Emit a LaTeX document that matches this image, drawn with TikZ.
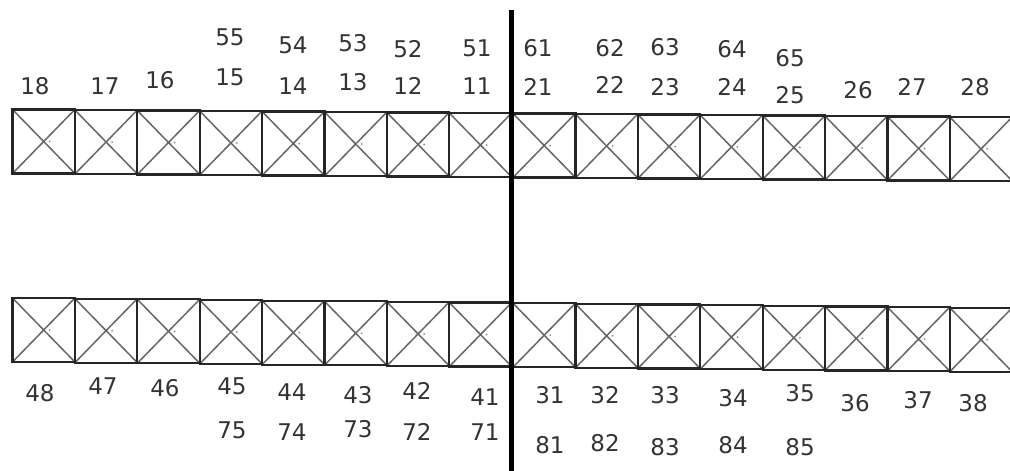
\documentclass[tikz,border=0pt]{standalone}
\usepackage{fontspec}
\setmainfont{DejaVu Sans}

\tikzset{
  tooth/.style={draw=black!85, line width=2.2pt, minimum width=62.4pt, minimum height=64pt, inner sep=0pt,
    path picture={
      \draw[black!60, line width=1.5pt] (path picture bounding box.north west) -- (path picture bounding box.south east)
        (path picture bounding box.north east) -- (path picture bounding box.south west);
      \fill[black!45] ([xshift=6pt]path picture bounding box.center) circle (1pt);}},
  num/.style={text=black!80, font=\fontsize{23}{27}\selectfont, inner sep=0pt}
}

\begin{document}
\begin{tikzpicture}[x=1pt,y=-1pt]
  \useasboundingbox (0,0) rectangle (1010,471);
  %% upper jaw
  \foreach \n/\x [count=\i from 0] in {18/43.7,17/106.1,16/168.5,15/230.9,14/293.3,13/355.7,12/418.1,11/480.5,
      21/544.2,22/606.6,23/669.0,24/731.4,25/793.8,26/856.2,27/918.6,28/981.0}
    \node[tooth] (t\n) at (\x,{141.5+0.5*\i}) {};
  %% lower jaw
  \foreach \n/\x [count=\i from 0] in {48/43.7,47/106.1,46/168.5,45/230.9,44/293.3,43/355.7,42/418.1,41/480.5,
      31/544.2,32/606.6,33/669.0,34/731.4,35/793.8,36/856.2,37/918.6,38/981.0}
    \node[tooth] (t\n) at (\x,{330+0.65*\i}) {};
  %% midline
  \coordinate (mtop) at (511,10);
  \coordinate (mbot) at (511,471);
  \draw[line width=5pt] (mtop) -- (mbot);
  %% numbers, upper
  \foreach \n/\x/\y in {55/230/37,54/293/45,53/353/43,52/408/49,51/477/48,
      61/538/48,62/610/48,63/665/47,64/732/49,65/790/58}
    \node[num] (n\n) at (\x,\y) {\n};
  \foreach \n/\x/\y in {18/35/86,17/105/86,16/160/80,15/230/77,14/293/86,13/353/82,12/408/86,11/477/86,
      21/538/87,22/610/85,23/665/87,24/732/87,25/790/95,26/858/90,27/912/87,28/975/87}
    \node[num] (n\n) at (\x,\y) {\n};
  %% numbers, lower
  \foreach \n/\x/\y in {48/40/393,47/103/386,46/165/388,45/232/386,44/292/392,43/358/395,42/417/391,41/485/397,
      31/550/395,32/605/395,33/665/395,34/733/398,35/800/393,36/855/403,37/918/400,38/973/403}
    \node[num] (n\n) at (\x,\y) {\n};
  \foreach \n/\x/\y in {75/232/430,74/292/432,73/358/429,72/417/432,71/485/432,
      81/550/445,82/605/443,83/665/447,84/733/445,85/800/447}
    \node[num] (n\n) at (\x,\y) {\n};
\end{tikzpicture}
\end{document}
